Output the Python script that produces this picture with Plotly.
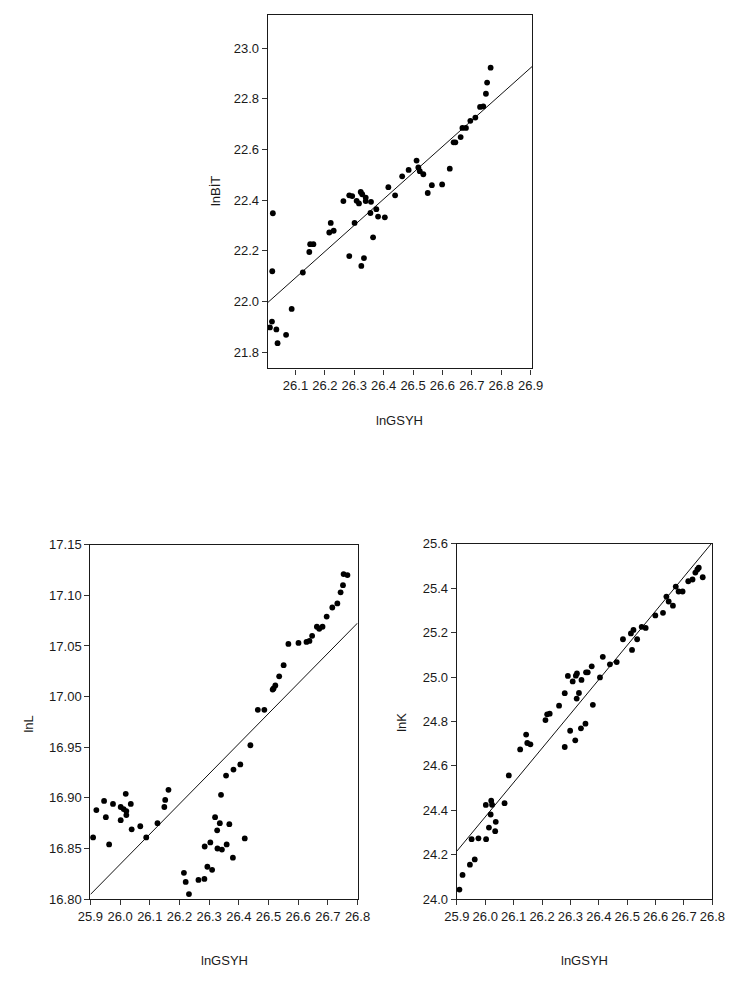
import numpy as np
import plotly.graph_objects as go

# ---------------- data ----------------
# Top chart: lnBIT vs lnGSYH
gsyh_top = [26.013, 26.020, 26.021, 26.023, 26.035, 26.039, 26.068, 26.087, 26.125, 26.147,
            26.150, 26.161, 26.215, 26.220, 26.230, 26.263, 26.283, 26.293, 26.283, 26.301,
            26.308, 26.316, 26.322, 26.327, 26.324, 26.333, 26.339, 26.339, 26.355, 26.357,
            26.364, 26.375, 26.381, 26.404, 26.416, 26.439, 26.463, 26.485, 26.512, 26.518,
            26.523, 26.535, 26.550, 26.564, 26.599, 26.625, 26.638, 26.644, 26.662, 26.668,
            26.680, 26.695, 26.712, 26.728, 26.739, 26.748, 26.752, 26.764]
lnBIT = [21.897, 21.920, 22.119, 22.348, 21.889, 21.835, 21.868, 21.970, 22.114, 22.195,
         22.226, 22.226, 22.272, 22.310, 22.279, 22.396, 22.419, 22.416, 22.179, 22.310,
         22.397, 22.387, 22.432, 22.423, 22.140, 22.171, 22.410, 22.396, 22.349, 22.393,
         22.253, 22.364, 22.335, 22.332, 22.451, 22.419, 22.494, 22.519, 22.556, 22.529,
         22.514, 22.502, 22.428, 22.459, 22.462, 22.524, 22.628, 22.628, 22.649, 22.685,
         22.685, 22.713, 22.726, 22.768, 22.770, 22.820, 22.864, 22.923]

# Bottom-left chart: lnL vs lnGSYH
gsyh_L = [25.909, 25.920, 25.946, 25.952, 25.963, 25.976, 26.002, 26.002, 26.012, 26.019,
          26.021, 26.021, 26.036, 26.039, 26.068, 26.088, 26.126, 26.149, 26.152, 26.163,
          26.215, 26.221, 26.232, 26.264, 26.284, 26.285, 26.294, 26.304, 26.310, 26.320,
          26.327, 26.328, 26.336, 26.340, 26.343, 26.359, 26.368, 26.380, 26.420,
          26.357, 26.382, 26.405, 26.439, 26.464, 26.486, 26.514, 26.517, 26.523, 26.536,
          26.551, 26.567, 26.601, 26.628, 26.638, 26.647, 26.663, 26.671, 26.682, 26.696,
          26.715, 26.732, 26.743, 26.751, 26.753, 26.766]
lnL = [16.861, 16.888, 16.897, 16.881, 16.854, 16.894, 16.891, 16.878, 16.889, 16.904,
       16.887, 16.883, 16.894, 16.869, 16.872, 16.861, 16.875, 16.891, 16.898, 16.908,
       16.826, 16.817, 16.805, 16.819, 16.820, 16.852, 16.832, 16.856, 16.829, 16.881,
       16.868, 16.850, 16.875, 16.903, 16.849, 16.854, 16.874, 16.841, 16.860,
       16.922, 16.928, 16.933, 16.952, 16.987, 16.987, 17.007, 17.008, 17.011, 17.020,
       17.031, 17.052, 17.053, 17.054, 17.055, 17.060, 17.069, 17.067, 17.069, 17.079,
       17.088, 17.092, 17.103, 17.110, 17.121, 17.120]

# Bottom-right chart: lnK vs lnGSYH
gsyh_K = [25.909, 25.920, 25.946, 25.952, 25.963, 25.976, 26.002, 26.003, 26.013, 26.019,
          26.021, 26.024, 26.035, 26.037, 26.068, 26.083, 26.123, 26.144, 26.148, 26.159,
          26.212, 26.218, 26.227, 26.260, 26.280, 26.280, 26.291, 26.299, 26.308, 26.317,
          26.319, 26.322, 26.323, 26.330, 26.337, 26.339, 26.353, 26.355, 26.361, 26.375,
          26.379, 26.404, 26.414, 26.439, 26.463, 26.485, 26.513, 26.517, 26.522, 26.535,
          26.551, 26.565, 26.599, 26.626, 26.638, 26.646, 26.661, 26.671, 26.681, 26.695,
          26.715, 26.730, 26.740, 26.747, 26.752, 26.766]
lnK = [24.043, 24.109, 24.155, 24.270, 24.179, 24.274, 24.424, 24.270, 24.322, 24.381,
       24.443, 24.425, 24.306, 24.348, 24.432, 24.557, 24.674, 24.741, 24.703, 24.697,
       24.806, 24.832, 24.835, 24.871, 24.927, 24.685, 25.005, 24.758, 24.980, 24.715,
       25.006, 24.903, 25.016, 24.928, 24.769, 24.987, 24.790, 25.021, 25.021, 25.048,
       24.875, 24.998, 25.091, 25.057, 25.067, 25.170, 25.196, 25.122, 25.212, 25.170,
       25.226, 25.221, 25.277, 25.289, 25.362, 25.340, 25.321, 25.407, 25.385, 25.385,
       25.431, 25.439, 25.470, 25.484, 25.492, 25.449]

# axis ticks
x_ticks_top = [26.1, 26.2, 26.3, 26.4, 26.5, 26.6, 26.7, 26.8, 26.9]
y_ticks_top = [21.8, 22.0, 22.2, 22.4, 22.6, 22.8, 23.0]
x_ticks_bottom = [25.9, 26.0, 26.1, 26.2, 26.3, 26.4, 26.5, 26.6, 26.7, 26.8]
y_ticks_L = [16.80, 16.85, 16.90, 16.95, 17.00, 17.05, 17.10, 17.15]
y_ticks_K = [24.0, 24.2, 24.4, 24.6, 24.8, 25.0, 25.2, 25.4, 25.6]

# page body adds an 8px margin; lay out in screenshot pixels and compensate
OFF = 8
W, H = 736 - OFF, 981 - OFF
FONT = "Arial, Liberation Sans, Helvetica, sans-serif"


def fx(px):
    return min(max((px - OFF) / W, 0.0), 1.0)


def fy(py):
    return min(max(1 - (py - OFF) / H, 0.0), 1.0)


fig = go.Figure()

panels = [
    dict(x=gsyh_top, y=lnBIT, xr=[26.006, 26.905], yr=[21.735, 23.131],
         xd=(264, 538), yd=(8, 367), xt=x_ticks_top, yt=y_ticks_top, yf="%.1f",
         yl="lnBİT", ylp=(209, 187), xlp=(401, 420)),
    dict(x=gsyh_L, y=lnL, xr=[25.9, 26.8], yr=[16.80, 17.15],
         xd=(80, 357), yd=(546, 906), xt=x_ticks_bottom, yt=y_ticks_L, yf="%.2f",
         yl="lnL", ylp=(16, 728), xlp=(219, 968)),
    dict(x=gsyh_K, y=lnK, xr=[25.9, 26.8], yr=[24.0, 25.6],
         xd=(460, 725), yd=(545, 906), xt=x_ticks_bottom, yt=y_ticks_K, yf="%.1f",
         yl="lnK", ylp=(403, 726), xlp=(592, 968)),
]

annotations = []
for i, p in enumerate(panels, start=1):
    xa = "x" if i == 1 else f"x{i}"
    ya = "y" if i == 1 else f"y{i}"
    # regression line from OLS fit
    b, a = np.polyfit(np.array(p["x"]), np.array(p["y"]), 1)
    lx = np.array(p["xr"])
    fig.add_trace(go.Scatter(x=lx, y=a + b * lx, mode="lines",
                             line=dict(color="#111111", width=1),
                             xaxis=xa, yaxis=ya, showlegend=False, hoverinfo="skip"))
    fig.add_trace(go.Scatter(x=p["x"], y=p["y"], mode="markers",
                             marker=dict(color="black", size=5.8),
                             xaxis=xa, yaxis=ya, showlegend=False, cliponaxis=False))
    common = dict(showgrid=False, zeroline=False, showline=True, mirror=True,
                  linecolor="#1a1a1a", linewidth=1.4, ticks="outside", ticklen=5,
                  tickwidth=1, tickcolor="#333333",
                  tickfont=dict(family=FONT, size=13, color="#1a1a1a"))
    fig.layout[("xaxis" if i == 1 else f"xaxis{i}")] = dict(
        common, range=p["xr"], domain=[fx(p["xd"][0]), fx(p["xd"][1])],
        anchor=ya, tickvals=p["xt"], ticktext=[f"{v:.1f}" for v in p["xt"]])
    fig.layout[("yaxis" if i == 1 else f"yaxis{i}")] = dict(
        common, range=p["yr"], domain=[fy(p["yd"][1]), fy(p["yd"][0])],
        anchor=xa, tickvals=p["yt"], ticktext=[p["yf"] % v for v in p["yt"]])
    annotations.append(dict(text=p["yl"], x=fx(p["ylp"][0]), y=fy(p["ylp"][1]),
                            xref="paper", yref="paper", showarrow=False, textangle=-90,
                            font=dict(family=FONT, size=13, color="#1a1a1a"),
                            xanchor="center", yanchor="middle"))
    annotations.append(dict(text="lnGSYH", x=fx(p["xlp"][0]), y=fy(p["xlp"][1]),
                            xref="paper", yref="paper", showarrow=False,
                            font=dict(family=FONT, size=13, color="#1a1a1a"),
                            xanchor="center", yanchor="middle"))

fig.update_layout(width=W, height=H, autosize=False,
                  margin=dict(l=0, r=0, t=0, b=0, pad=0),
                  paper_bgcolor="white", plot_bgcolor="rgba(0,0,0,0)",
                  annotations=annotations, showlegend=False)

fig.write_html("out.html")
